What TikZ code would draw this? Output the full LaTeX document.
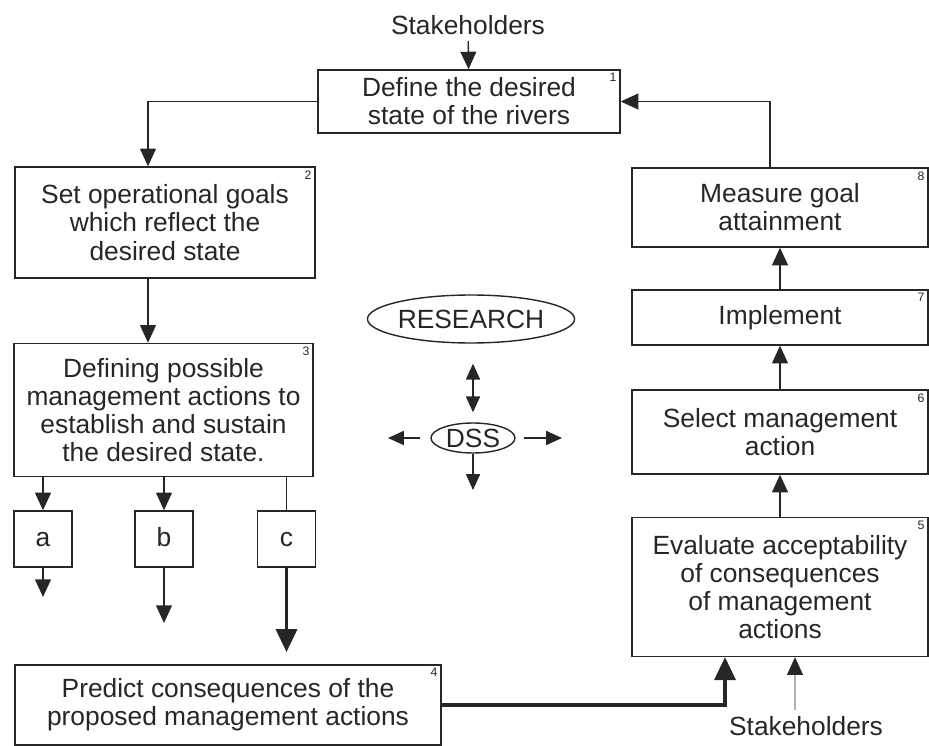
\documentclass[tikz,border=0pt]{standalone}
\usepackage{fontspec}
\setmainfont{Liberation Sans}
\usetikzlibrary{arrows.meta,positioning,shapes.geometric}

\begin{document}
\begin{tikzpicture}[x=0.02cm, y=-0.02cm, color=black!85, line width=0.8pt, >={Triangle[width=9pt,length=10pt]},
  every node/.style={font=\fontsize{15}{16}\selectfont, align=center},
  box/.style={draw, rectangle, inner sep=2pt, label={[tag, anchor=north east]north east:#1}},
  tag/.style={font=\fontsize{7}{8}\selectfont, inner sep=2pt},
  choice/.style={draw, rectangle, minimum width=1.16cm, minimum height=1.12cm, text height=1.6ex, text depth=0pt},
  blob/.style={draw, ellipse, inner sep=0pt},
  bold/.style={line width=1.8pt, -{Triangle[width=12pt,length=13pt]}},
  small/.style={->, >={Triangle[width=8pt,length=9pt]}}]
\useasboundingbox (0,0) rectangle (929,746);
\node (s1) at (468,25) {Stakeholders};
\node[box=1, minimum width=6.04cm, minimum height=1.26cm] (n1) at (469,101.5) {Define the desired\\state of the rivers};
\node[box=2, minimum width=6cm, minimum height=2.22cm] (n2) at (165,222.5) {Set operational goals\\which reflect the\\desired state};
\node[box=3, minimum width=5.98cm, minimum height=2.66cm] (n3) at (163.5,410) {Defining possible\\management actions to\\establish and sustain\\the desired state.};
\node[choice] (a) at (43,539) {a};
\node[choice] (b) at (164,539) {b};
\node[choice] (c) at (286.5,539) {c};
\node[box=4, minimum width=8.52cm, minimum height=1.6cm] (n4) at (228,705) {Predict consequences of the\\proposed management actions};
\node[box=5, minimum width=5.92cm, minimum height=2.78cm] (n5) at (780,587) {Evaluate acceptability\\of consequences\\of management\\actions};
\node[box=6, minimum width=5.92cm, minimum height=1.68cm] (n6) at (780,432) {Select management\\action};
\node[box=7, minimum width=5.92cm, minimum height=1.1cm] (n7) at (780,317.5) {Implement};
\node[box=8, minimum width=5.92cm, minimum height=1.58cm] (n8) at (780,207.5) {Measure goal\\attainment};
\node (s2) at (806,726) {Stakeholders};
\node[blob, minimum width=4.1cm, minimum height=0.96cm] (res) at (471,319) {RESEARCH};
\node[blob, minimum width=1.68cm, minimum height=0.6cm] (dss) at (473,438) {DSS};
% loose ends
\coordinate (aend) at (43,597);
\coordinate (bend) at (164,623);
\coordinate (cend) at (286.5,652);
\coordinate (dl) at (388,438);
\coordinate (dr) at (562,438);
\coordinate (dd) at (473,490);
\draw[->] (s1) -- (n1);
\draw[->] (n1.west) -| ([xshift=-0.34cm]n2.north);
\draw[->] ([xshift=-0.34cm]n2.south) -- ([xshift=-0.34cm]n2.south |- n3.north);
\draw[->] (a.north |- n3.south) -- (a);
\draw[->] (b.north |- n3.south) -- (b);
\draw (c.north |- n3.south) -- (c);
\draw[->] (a) -- (aend);
\draw[->] (b) -- (bend);
\draw[bold] (c) -- (cend);
\draw[bold] (n4.east) -| ([xshift=-1.1cm]n5.south);
\draw[->, line width=0.5pt] ([xshift=-0.22cm]s2.north) -- ([xshift=0.3cm]n5.south);
\draw[->] (n5) -- (n6);
\draw[->] (n6) -- (n7);
\draw[->] (n7) -- (n8);
\draw[->] ([xshift=-0.2cm]n8.north) |- (n1.east);
% research and DSS
\draw[small, <->, shorten <=0.4cm, shorten >=0.2cm] (res.south -| dss) -- (dss);
\draw[small, shorten <=0.2cm] (dss) -- (dl);
\draw[small, shorten <=0.16cm] (dss) -- (dr);
\draw[small] (dss) -- (dd);
\end{tikzpicture}
\end{document}
